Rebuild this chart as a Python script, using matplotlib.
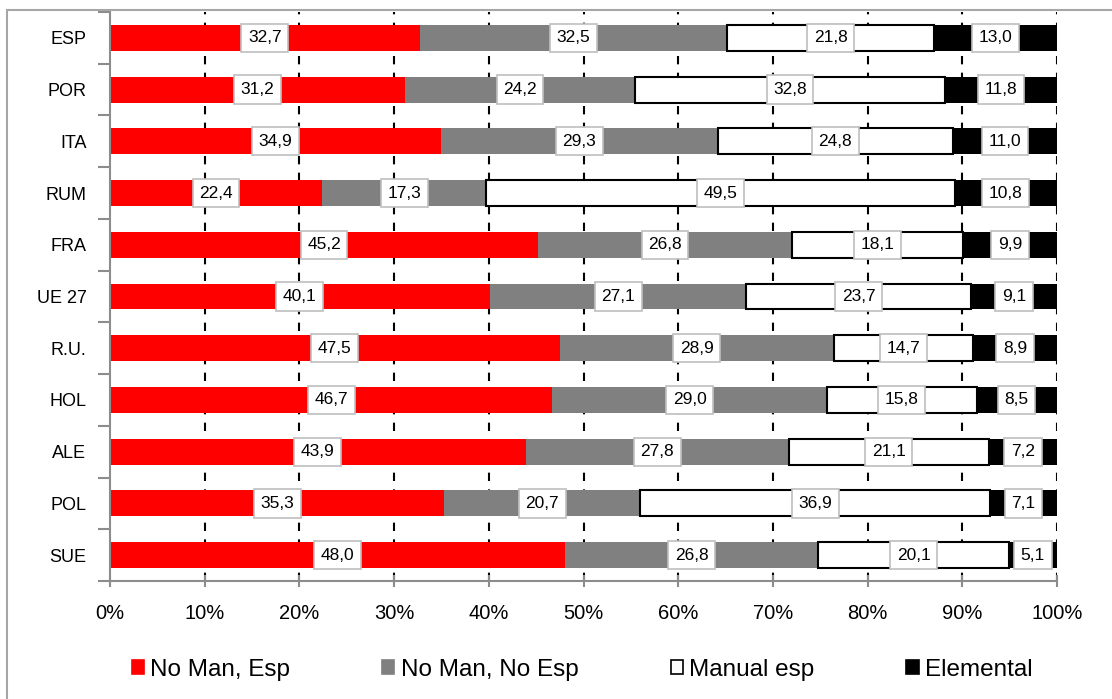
import matplotlib.pyplot as plt
from matplotlib.patches import Patch, Rectangle
import numpy as np

plt.rcParams['font.family'] = ['Liberation Sans', 'DejaVu Sans']

paises = ['ESP', 'POR', 'ITA', 'RUM', 'FRA', 'UE 27', 'R.U.', 'HOL', 'ALE', 'POL', 'SUE']
no_man_esp = [32.7, 31.2, 34.9, 22.4, 45.2, 40.1, 47.5, 46.7, 43.9, 35.3, 48.0]
no_man_no_esp = [32.5, 24.2, 29.3, 17.3, 26.8, 27.1, 28.9, 29.0, 27.8, 20.7, 26.8]
manual_esp = [21.8, 32.8, 24.8, 49.5, 18.1, 23.7, 14.7, 15.8, 21.1, 36.9, 20.1]
elemental = [13.0, 11.8, 11.0, 10.8, 9.9, 9.1, 8.9, 8.5, 7.2, 7.1, 5.1]

series = [
    ('No Man, Esp', no_man_esp, '#ff0000', 'none'),
    ('No Man, No Esp', no_man_no_esp, '#808080', 'none'),
    ('Manual esp', manual_esp, 'white', 'black'),
    ('Elemental', elemental, 'black', 'none'),
]

fig = plt.figure(figsize=(11.12, 6.99), dpi=100)
ax = fig.add_axes([110 / 1112, 1 - 581 / 699, 947 / 1112, 569 / 699])

# outer chart border (cut off at the right and bottom)
fig.patches.append(Rectangle((7 / 1112, -0.1), 1.2, 1.1 - 10 / 699,
                             transform=fig.transFigure, fill=False,
                             edgecolor='#a6a6a6', linewidth=1.5))

y = np.arange(len(paises))
left = np.zeros(len(paises))
handles = []
for nombre, vals, color, edge in series:
    vals = np.array(vals)
    lw = 1.5 if edge != 'none' else 0
    ax.barh(y, vals, left=left, height=0.5, color=color, edgecolor=edge,
            linewidth=lw, zorder=2)
    for yi, l, v in zip(y, left, vals):
        ax.text(l + v / 2, yi, f'{v:.1f}'.replace('.', ','), ha='center',
                va='center', fontsize=12.5, zorder=4,
                bbox=dict(boxstyle='square,pad=0.38', fc='white',
                          ec='#bfbfbf', lw=1.2))
    left += vals
    handles.append(Patch(facecolor=color, edgecolor='black' if edge != 'none' else color,
                         linewidth=1.2, label=nombre))

ax.set_xlim(0, 100)
ax.set_ylim(len(paises) - 0.5, -0.5)
ax.set_xticks(np.arange(0, 101, 10))
ax.set_xticklabels([f'{t}%' for t in range(0, 101, 10)], fontsize=14.5)
ax.set_yticks(y)
ax.set_yticklabels(paises, fontsize=13)
ax.set_yticks(np.arange(-0.5, len(paises), 1), minor=True)

for xg in range(10, 101, 10):
    ax.axvline(xg, color='black', linestyle=(0, (4, 4)), linewidth=1.5, zorder=1)

for s in ['top', 'right']:
    ax.spines[s].set_visible(False)
for s in ['left', 'bottom']:
    ax.spines[s].set_color('#8c8c8c')
    ax.spines[s].set_linewidth(1.5)

ax.tick_params(axis='y', which='major', length=0, pad=17)
ax.tick_params(axis='y', which='minor', length=9, width=1.5, color='#8c8c8c')
ax.tick_params(axis='x', direction='inout', length=9, width=1.5, color='#8c8c8c', pad=12)

fig.legend(handles=handles, loc='center', bbox_to_anchor=(582 / 1112, 1 - 670 / 699),
           ncol=4, frameon=False, fontsize=17.5, handlelength=0.5, handleheight=0.5,
           handletextpad=0.25, columnspacing=3.8)

fig.savefig('out.png', dpi=100)
